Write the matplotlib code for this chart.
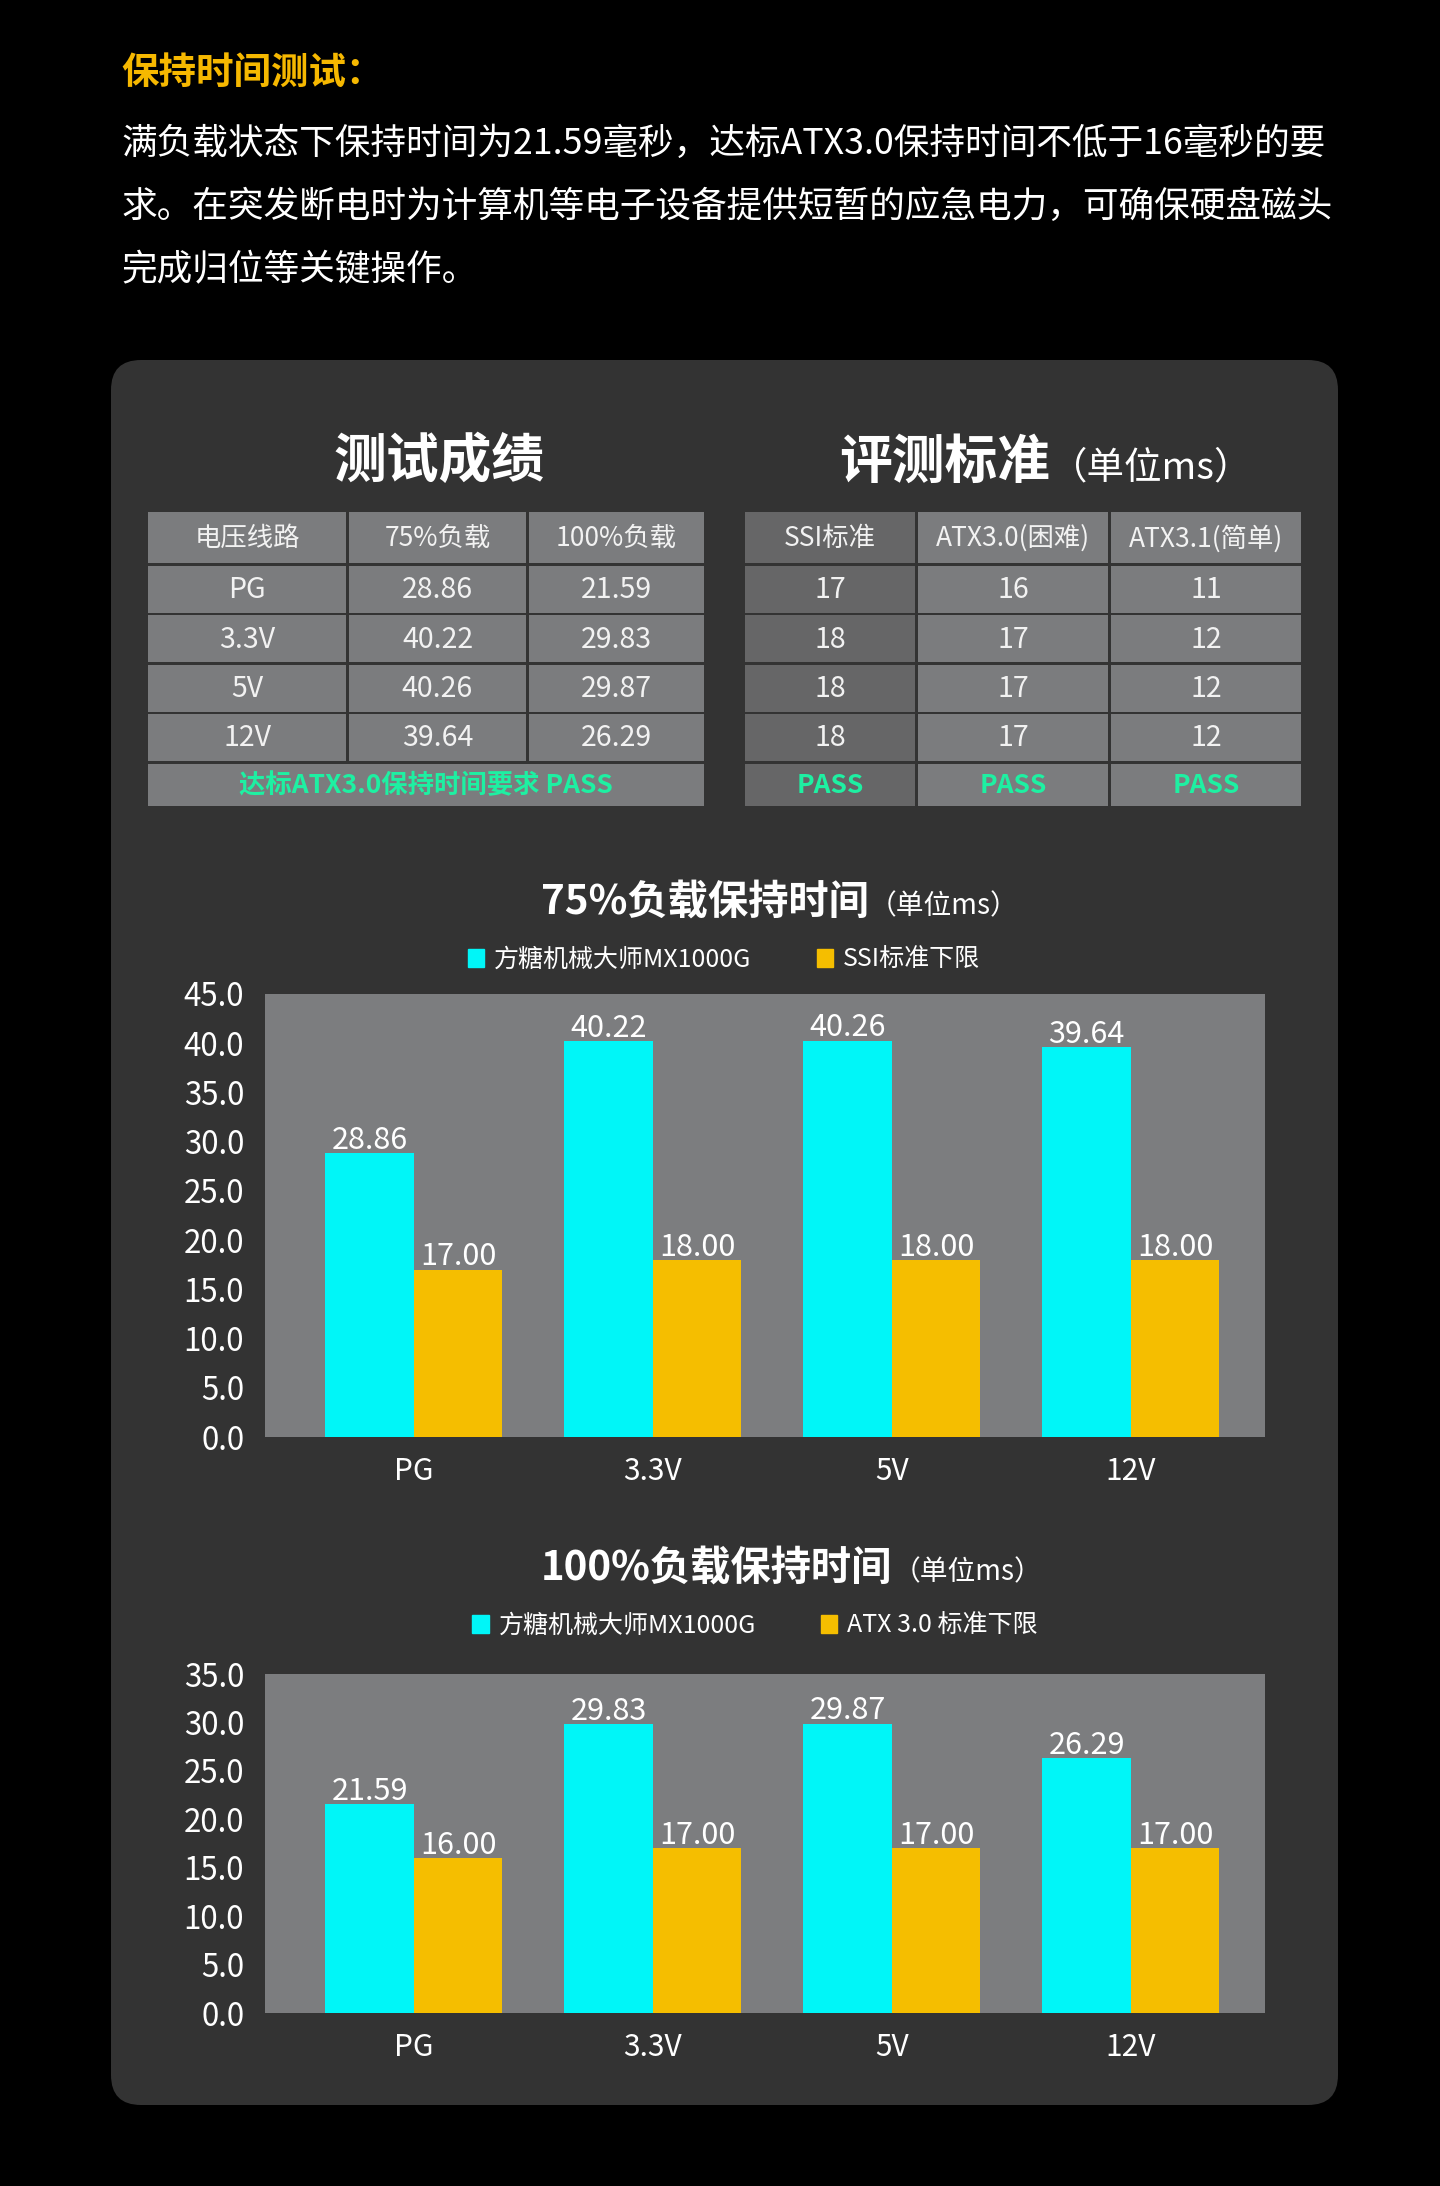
import matplotlib
matplotlib.use('Agg')
import matplotlib.pyplot as plt
import numpy as np
from matplotlib.patches import FancyBboxPatch, Rectangle, Patch

plt.rcParams['font.family'] = ['Noto Sans CJK SC', 'DejaVu Sans']

# data
rails = ['PG', '3.3V', '5V', '12V']
load75 = [28.86, 40.22, 40.26, 39.64]
load100 = [21.59, 29.83, 29.87, 26.29]
ssi_std = [17, 18, 18, 18]
atx30_std = [16, 17, 17, 17]
atx31_std = [11, 12, 12, 12]

intro_title = '保持时间测试：'
intro_lines = ['满负载状态下保持时间为21.59毫秒，达标ATX3.0保持时间不低于16毫秒的要',
               '求。在突发断电时为计算机等电子设备提供短暂的应急电力，可确保硬盘磁头',
               '完成归位等关键操作。']
result_title = '测试成绩'
std_title = '评测标准'
unit = '（单位ms）'
result_header = ['电压线路', '75%负载', '100%负载']
std_header = ['SSI标准', 'ATX3.0(困难)', 'ATX3.1(简单)']
result_pass = '达标ATX3.0保持时间要求 PASS'
product = '方糖机械大师MX1000G'
chart1_title = '75%负载保持时间'
chart2_title = '100%负载保持时间'
chart1_std = 'SSI标准下限'
chart2_std = 'ATX 3.0 标准下限'

W, H = 1440, 2186
cyan = '#00f6f8'
gold = '#f5be00'
yellow = '#f6b800'
green = '#1ef0a2'
panel = '#333333'
cell = '#7b7c7e'
cell_dark = '#666667'
plotbg = '#7c7d7f'

fig = plt.figure(figsize=(W / 100, H / 100), dpi=100, facecolor='black')
bg = fig.add_axes([0, 0, 1, 1], zorder=0)
bg.set_xlim(0, W)
bg.set_ylim(H, 0)
bg.axis('off')

# intro text
bg.text(121, 72, intro_title, fontsize=27, fontweight='bold', color=yellow, va='center')
for i, line in enumerate(intro_lines):
    bg.text(121, 144 + i * 63, line, fontsize=25.7, color='white', va='center')

# panel
bg.add_patch(FancyBboxPatch((111, 360), 1227, 1745, boxstyle='round,pad=0,rounding_size=30',
                            fc=panel, ec='none'))

# tables
row_h = [51, 47, 47, 47, 47, 42]
gap = 2.5
top = 512
row_top = [top]
for h in row_h[:-1]:
    row_top.append(row_top[-1] + h + gap)


def draw_cell(x0, x1, r, color, text, tcolor='#f2f2f2', size=20.5, weight='normal'):
    y0 = row_top[r]
    bg.add_patch(Rectangle((x0, y0), x1 - x0, row_h[r], fc=color, ec='none'))
    bg.text((x0 + x1) / 2, y0 + row_h[r] / 2 + 1, text, fontsize=size, color=tcolor,
            fontweight=weight, ha='center', va='center')


left_cols = [(148, 346), (349, 526), (529, 704)]
right_cols = [(745, 915), (918, 1108), (1111, 1301)]

for c, (x0, x1) in enumerate(left_cols):
    draw_cell(x0, x1, 0, cell, result_header[c], size=19)
for r in range(len(rails)):
    vals = [rails[r], '%.2f' % load75[r], '%.2f' % load100[r]]
    for c, (x0, x1) in enumerate(left_cols):
        draw_cell(x0, x1, r + 1, cell, vals[c])
draw_cell(left_cols[0][0], left_cols[-1][1], 5, cell, result_pass, tcolor=green, size=19, weight='bold')

for c, (x0, x1) in enumerate(right_cols):
    draw_cell(x0, x1, 0, cell_dark if c == 0 else cell, std_header[c], size=19)
for r in range(len(rails)):
    vals = [ssi_std[r], atx30_std[r], atx31_std[r]]
    for c, (x0, x1) in enumerate(right_cols):
        draw_cell(x0, x1, r + 1, cell_dark if c == 0 else cell, str(vals[c]))
for c, (x0, x1) in enumerate(right_cols):
    draw_cell(x0, x1, 5, cell_dark if c == 0 else cell, 'PASS', tcolor=green, size=19, weight='bold')

bg.text(439, 461, result_title, fontsize=38, fontweight='bold', color='white', ha='center', va='center')
t = bg.text(839, 462, std_title, fontsize=38, fontweight='bold', color='white', ha='left', va='center')
bg.annotate(unit, xy=(1, 0.02), xycoords=t, fontsize=27, color='white', ha='left', va='bottom')


def bar_chart(top_px, bottom_px, main, std, ymax, title, title_y, std_label, leg_x, leg_y):
    left, right = 265, 1265
    ax = fig.add_axes([left / W, 1 - bottom_px / H, (right - left) / W, (bottom_px - top_px) / H], zorder=2)
    x = np.arange(len(rails))
    w = 0.37
    b1 = ax.bar(x - w / 2, main, w, color=cyan)
    b2 = ax.bar(x + w / 2, std, w, color=gold)
    for b in (b1, b2):
        ax.bar_label(b, fmt='%.2f', padding=-2, color='white', fontsize=22)
    ax.set_xlim(-0.623, 3.561)
    ax.set_ylim(0, ymax)
    ticks = np.arange(0, ymax + 0.1, 5)
    ax.set_yticks(ticks)
    ax.set_yticklabels(['%.1f' % v for v in ticks])
    ax.set_xticks(x)
    ax.set_xticklabels(rails)
    ax.tick_params(length=0, labelsize=22.5, colors='white')
    ax.tick_params(axis='y', pad=15)
    ax.tick_params(axis='x', labelsize=21.5, pad=14)
    ax.set_facecolor(plotbg)
    for s in ax.spines.values():
        s.set_visible(False)
    ax.legend(handles=[Patch(color=cyan, label=product), Patch(color=gold, label=std_label)],
              loc='center', bbox_to_anchor=(leg_x / W, 1 - leg_y / H), bbox_transform=fig.transFigure,
              ncol=2, frameon=False, fontsize=18, handlelength=0.65, handleheight=0.75,
              handletextpad=0.4, columnspacing=2.6, labelcolor='white')
    tt = bg.text(541, title_y, title, fontsize=29, fontweight='bold', color='white', ha='left', va='center')
    bg.annotate(unit, xy=(1, 0.02), xycoords=tt, fontsize=20, color='white', ha='left', va='bottom')
    return ax


bar_chart(994, 1437, load75, ssi_std, 45, chart1_title, 902, chart1_std, 724, 960)
bar_chart(1674, 2013, load100, atx30_std, 35, chart2_title, 1568, chart2_std, 755, 1626)

fig.savefig('out.png', dpi=100, facecolor='black')
